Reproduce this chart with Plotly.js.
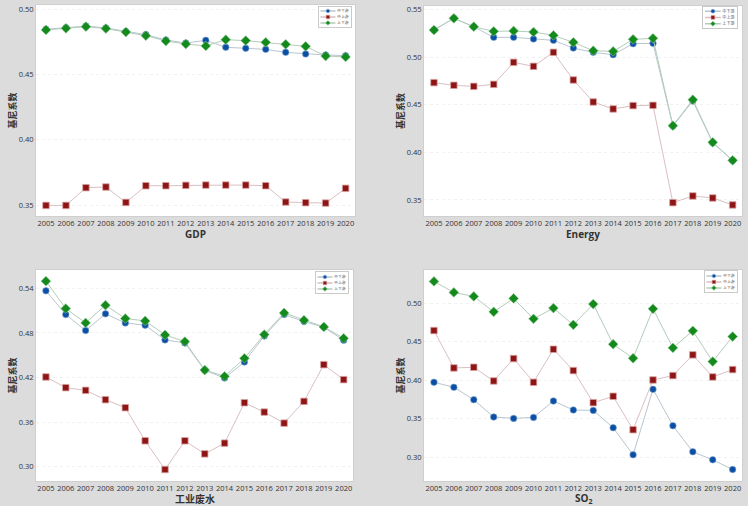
<!DOCTYPE html>
<html><head><meta charset="utf-8">
<script src="https://cdn.plot.ly/plotly-3.0.1.min.js"></script>
<style>html,body{margin:0;padding:0;background:#dcdcdc}#chart{width:748px;height:506px}</style>
</head><body><div id="chart"></div>
<script>
const years = [2005,2006,2007,2008,2009,2010,2011,2012,2013,2014,2015,2016,2017,2018,2019,2020];
const seriesNames = ['中下游','中上游','上下游'];
const panelTitles = ['GDP','Energy','工业废水','SO<sub>2</sub>'];
const yTitle = '基尼系数';

// GDP
const gdpMidLow = [0.4847,0.4859,0.4872,0.4857,0.4829,0.4806,0.4765,0.4742,0.4762,0.4709,0.4701,0.4693,0.4670,0.4658,0.4650,0.4645];
const gdpMidUp  = [0.3497,0.3497,0.3633,0.3638,0.3520,0.3648,0.3648,0.3651,0.3653,0.3653,0.3653,0.3648,0.3523,0.3518,0.3515,0.3628];
const gdpUpLow  = [0.4842,0.4854,0.4867,0.4852,0.4826,0.4798,0.4757,0.4734,0.4719,0.4767,0.4760,0.4747,0.4732,0.4716,0.4642,0.4635];
// Energy
const enMidLow = [0.5283,0.5406,0.5318,0.5206,0.5206,0.5189,0.5175,0.5094,0.5049,0.5024,0.5140,0.5143,0.4276,0.4538,0.4101,0.3913];
const enMidUp  = [0.4731,0.4703,0.4692,0.4713,0.4944,0.4902,0.5049,0.4759,0.4528,0.4455,0.4490,0.4493,0.3472,0.3542,0.3521,0.3448];
const enUpLow  = [0.5283,0.5406,0.5318,0.5269,0.5273,0.5262,0.5227,0.5154,0.5066,0.5059,0.5185,0.5196,0.4280,0.4552,0.4105,0.3916];
// 工业废水
const wwMidLow = [0.5368,0.5049,0.4833,0.5058,0.4936,0.4905,0.4707,0.4666,0.4297,0.4193,0.4409,0.4761,0.5049,0.4954,0.4878,0.4702];
const wwMidUp  = [0.4207,0.4063,0.4027,0.3901,0.3793,0.3347,0.2960,0.3347,0.3171,0.3315,0.3860,0.3734,0.3585,0.3878,0.4373,0.4171];
const wwUpLow  = [0.5499,0.5130,0.4936,0.5175,0.4995,0.4963,0.4774,0.4684,0.4301,0.4216,0.4459,0.4779,0.5071,0.4972,0.4882,0.4729];
// SO2
const soMidLow = [0.3972,0.3907,0.3746,0.3521,0.3503,0.3516,0.3729,0.3612,0.3607,0.3382,0.3030,0.3881,0.3408,0.3069,0.2965,0.2840];
const soMidUp  = [0.4644,0.4158,0.4167,0.3989,0.4280,0.3972,0.4401,0.4124,0.3707,0.3790,0.3356,0.4002,0.4059,0.4328,0.4041,0.4137];
const soUpLow  = [0.5282,0.5139,0.5087,0.4887,0.5061,0.4796,0.4935,0.4718,0.4987,0.4466,0.4284,0.4926,0.4419,0.4640,0.4241,0.4566];

const yTicks = [
  [0.35,0.40,0.45,0.50],
  [0.35,0.40,0.45,0.50,0.55],
  [0.30,0.36,0.42,0.48,0.54],
  [0.30,0.35,0.40,0.45,0.50]
];
const yRanges = [[0.3416,0.5033],[0.3332,0.5535],[0.2805,0.5649],[0.269,0.543]];
const panels = [
  [gdpMidLow,gdpMidUp,gdpUpLow],
  [enMidLow,enMidUp,enUpLow],
  [wwMidLow,wwMidUp,wwUpLow],
  [soMidLow,soMidUp,soUpLow]
];

const W=748,H=506;
// pixel boxes [left,right,top,bottom]
const boxes = [[36,355,5,216],[424,742,6,216],[36,353,270,481],[424,742,270,481]];
// legend boxes [left,right,top,bottom] in px
const legendBoxes = [[311,351,6,28],[697,737,6,29],[307,348,272,294],[696,737,271,293]];
const titleY = [234,234,498.5,498.5];
const yTitleX = [12,400,12,400];

const markerStyles = [
  {symbol:'circle', color:'#0a4fa3', size:6.5, line:{color:'#7fa3cf',width:0.6}},
  {symbol:'square', color:'#8e1515', size:6.5, line:{color:'#d9a3a3',width:0.8}},
  {symbol:'diamond', color:'#148a1c', size:7.5, line:{color:'#8cc894',width:0.6}}
];
const lineColors = ['#b8c6d0','#d9bfc3','#b3cdb9'];

const traces=[];
const layout = {
  width:W,height:H,margin:{l:0,r:0,t:0,b:0},
  paper_bgcolor:'#dcdcdc',plot_bgcolor:'#ffffff',
  font:{family:'"Open Sans", "Noto Sans CJK SC", sans-serif',color:'#333'},
  showlegend:true,annotations:[]
};
const legendIds=[];
panels.forEach((p,i)=>{
  const ax = i===0?'':String(i+1);
  const b = boxes[i];
  layout['xaxis'+ax] = {
    domain:[b[0]/W,b[1]/W], anchor:'y'+ax, range:[2004.5,2020.47],
    tickvals:years, ticktext:years.map(String), tickangle:0, tickfont:{size:7.5,color:'#333'},
    showgrid:false, zeroline:false, showline:true, mirror:true, linecolor:'#cfcfcf', linewidth:1,
    ticks:'', fixedrange:true
  };
  layout['yaxis'+ax] = {
    domain:[1-b[3]/H,1-b[2]/H], anchor:'x'+ax, range:yRanges[i],
    tickvals:yTicks[i], tickformat:'.2f', tickfont:{size:7.5,color:'#333'},
    showgrid:true, gridcolor:'#f1f1f1', griddash:'dot', zeroline:false,
    showline:true, mirror:true, linecolor:'#cfcfcf', linewidth:1, ticks:'', fixedrange:true
  };
  const lg = i===0?'legend':'legend'+(i+1);
  legendIds.push(lg);
  const L = legendBoxes[i];
  layout[lg] = {
    x:L[1]/W, y:1-L[2]/H, xanchor:'right', yanchor:'top',
    bgcolor:'#ffffff', bordercolor:'#c4c4c4', borderwidth:3,
    font:{size:13,color:'#555'}, tracegroupgap:0, itemwidth:50, itemsizing:'constant'
  };
  p.forEach((vals,k)=>{
    traces.push({
      type:'scatter', mode:'lines+markers', x:years, y:vals, name:seriesNames[k],
      xaxis:'x'+ax, yaxis:'y'+ax, legend:lg,
      line:{color:lineColors[k],width:1}, marker:markerStyles[k], hoverinfo:'skip'
    });
  });
  layout.annotations.push({
    xref:'paper',yref:'paper',x:(b[0]+b[1])/2/W,y:1-titleY[i]/H,xanchor:'center',yanchor:'middle',
    text:'<b>'+panelTitles[i]+'</b>',showarrow:false,font:{size:10,color:'#333'}
  });
  layout.annotations.push({
    xref:'paper',yref:'paper',x:yTitleX[i]/W,y:1-((b[2]+b[3])/2)/H,xanchor:'center',yanchor:'middle',
    text:'<b>'+yTitle+'</b>',textangle:-90,showarrow:false,font:{size:9,color:'#333',family:'"Noto Sans CJK SC", sans-serif'}
  });
});
Plotly.newPlot('chart',traces,layout,{displayModeBar:false,staticPlot:true}).then(()=>{
  // shrink each legend to the compact size of the reference, keeping its top-right corner
  const root = document.getElementById('chart').getBoundingClientRect();
  legendIds.forEach((id,i)=>{
    const g = document.querySelector('#chart g.'+id);
    if(!g) return;
    const bg = g.querySelector('rect.bg');
    g.setAttribute('transform','translate(0,0)');
    const r = bg.getBoundingClientRect();
    const left = r.left-root.left, top = r.top-root.top;
    const L = legendBoxes[i];
    const s = Math.min((L[1]-L[0])/r.width, (L[3]-L[2])/r.height);
    const tx = L[1] - (left + r.width)*s;
    const ty = L[2] - top*s;
    g.setAttribute('transform','translate('+tx+','+ty+') scale('+s+')');
  });
});
</script></body></html>
